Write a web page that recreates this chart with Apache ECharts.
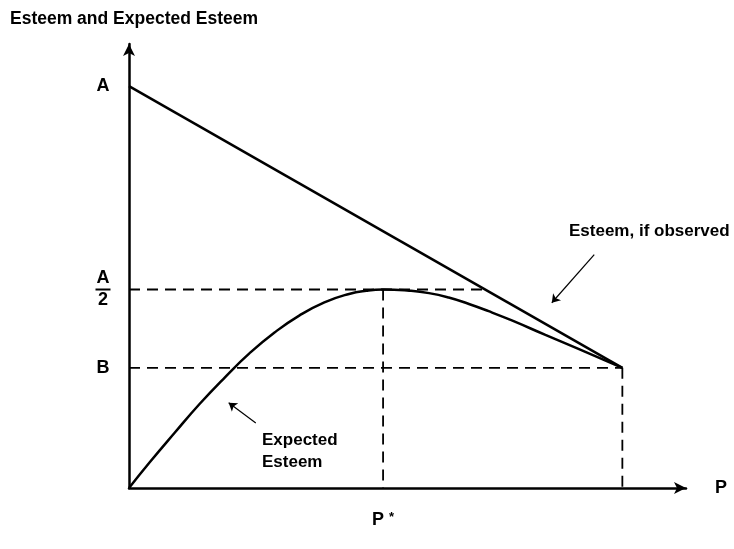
<!DOCTYPE html>
<html>
<head>
<meta charset="utf-8">
<script src="https://cdn.jsdelivr.net/npm/echarts@6/dist/echarts.min.js"></script>
<style>
  html, body { margin: 0; padding: 0; background: #fff; }
  #main { width: 734px; height: 549px; }
</style>
</head>
<body>
<div id="main"></div>
<script>
// P runs 0..10 (10 = right end of curves), esteem in units where A = 10
var esteemObserved = [[0, 10], [10, 2.99]]
var expectedEsteem = [
  [0, 0], [0.42, 0.64], [0.93, 1.38], [1.43, 2.09], [1.94, 2.75], [2.44, 3.35],
  [2.95, 3.87], [3.45, 4.29], [3.96, 4.62], [4.46, 4.83], [4.81, 4.91], [5.15, 4.94],
  [5.68, 4.91], [6.08, 4.85], [6.48, 4.74], [6.89, 4.58], [7.29, 4.40],
  [7.76, 4.17], [8.44, 3.81], [9.11, 3.46], [10, 2.99]
]
var halfLine = [[0, 4.94], [7.2, 4.94]]
var pStarLine = [[5.15, 4.94], [5.15, 0]]
var bLine = [[0, 2.99], [10, 2.99]]
var endLine = [[10, 2.99], [10, 0]]

var yTickValues = [2.99, 4.94, 10]
var yTickLabels = ['B', 'A/2', 'A']
var xTickValues = [5.15]

var arrowObserved = [[9.43, 5.81], [8.57, 4.61]]
var arrowExpected = [[2.57, 1.62], [2.02, 2.12]]

var font = 'Arial, "Liberation Sans", sans-serif'
var chart = echarts.init(document.getElementById('main'))

function dashed (data) {
  return {
    type: 'line',
    data: data,
    showSymbol: false,
    silent: true,
    lineStyle: { color: '#000', width: 1.8, type: [11, 7] },
    z: 1
  }
}

var option = {
  animation: false,
  backgroundColor: '#fff',
  title: {
    text: 'Esteem and Expected Esteem',
    left: 5,
    top: 5,
    textStyle: { fontFamily: font, fontSize: 17.5, fontWeight: 'bold', color: '#000' }
  },
  grid: { left: 129, right: 48, top: 44, bottom: 61 },
  xAxis: {
    type: 'value',
    min: 0,
    max: 11.29,
    name: 'P',
    nameLocation: 'end',
    nameGap: 29,
    nameTextStyle: { fontFamily: font, fontSize: 18, fontWeight: 'bold', color: '#000' },
    axisLine: { lineStyle: { color: '#000', width: 2.5 }, symbol: ['none', 'arrow'], symbolSize: [9, 12] },
    axisTick: { show: false },
    splitLine: { show: false },
    axisLabel: {
      customValues: xTickValues,
      margin: 23,
      formatter: function () { return '{p|P}{s|*}' },
      rich: {
        p: { fontFamily: font, fontSize: 18, fontWeight: 'bold', color: '#000' },
        s: { fontFamily: font, fontSize: 13, fontWeight: 'bold', color: '#000', padding: [0, 0, 6, 5] }
      }
    }
  },
  yAxis: {
    type: 'value',
    min: 0,
    max: 11.05,
    axisLine: { lineStyle: { color: '#000', width: 2.5 }, symbol: ['none', 'arrow'], symbolSize: [9, 12] },
    axisTick: { show: false },
    splitLine: { show: false },
    axisLabel: {
      customValues: yTickValues,
      margin: 26,
      align: 'center',
      formatter: function (v) {
        var lab = yTickLabels[yTickValues.indexOf(v)]
        if (lab === 'A/2') return '{n|A}\n{bar|}\n{n|2}'
        return '{n|' + lab + '}'
      },
      rich: {
        n: { fontFamily: font, fontSize: 18, fontWeight: 'bold', color: '#000', lineHeight: 19 },
        bar: { width: 15, height: 2, lineHeight: 3, backgroundColor: '#000' }
      }
    }
  },
  series: [
    dashed(halfLine),
    dashed(pStarLine),
    dashed(bLine),
    dashed(endLine),
    {
      name: 'Esteem, if observed',
      type: 'line',
      data: esteemObserved,
      showSymbol: false,
      silent: true,
      lineStyle: { color: '#000', width: 2.5 },
      z: 3
    },
    {
      name: 'Expected Esteem',
      type: 'line',
      data: expectedEsteem,
      smooth: 0.5,
      showSymbol: false,
      silent: true,
      lineStyle: { color: '#000', width: 2.5 },
      z: 3
    },
    {
      type: 'lines',
      coordinateSystem: 'cartesian2d',
      silent: true,
      symbol: ['none', 'arrow'],
      symbolSize: 8,
      lineStyle: { color: '#000', width: 1.2, opacity: 1 },
      data: [{ coords: arrowObserved }, { coords: arrowExpected }],
      z: 4
    }
  ],
  graphic: [
    {
      type: 'text',
      left: 569,
      top: 223,
      style: { text: 'Esteem, if observed', font: 'bold 17px ' + font, fill: '#000' }
    },
    {
      type: 'text',
      left: 262,
      top: 429,
      style: { text: 'Expected\nEsteem', font: 'bold 17px ' + font, fill: '#000', lineHeight: 22 }
    }
  ]
}

option && chart.setOption(option)
</script>
</body>
</html>
